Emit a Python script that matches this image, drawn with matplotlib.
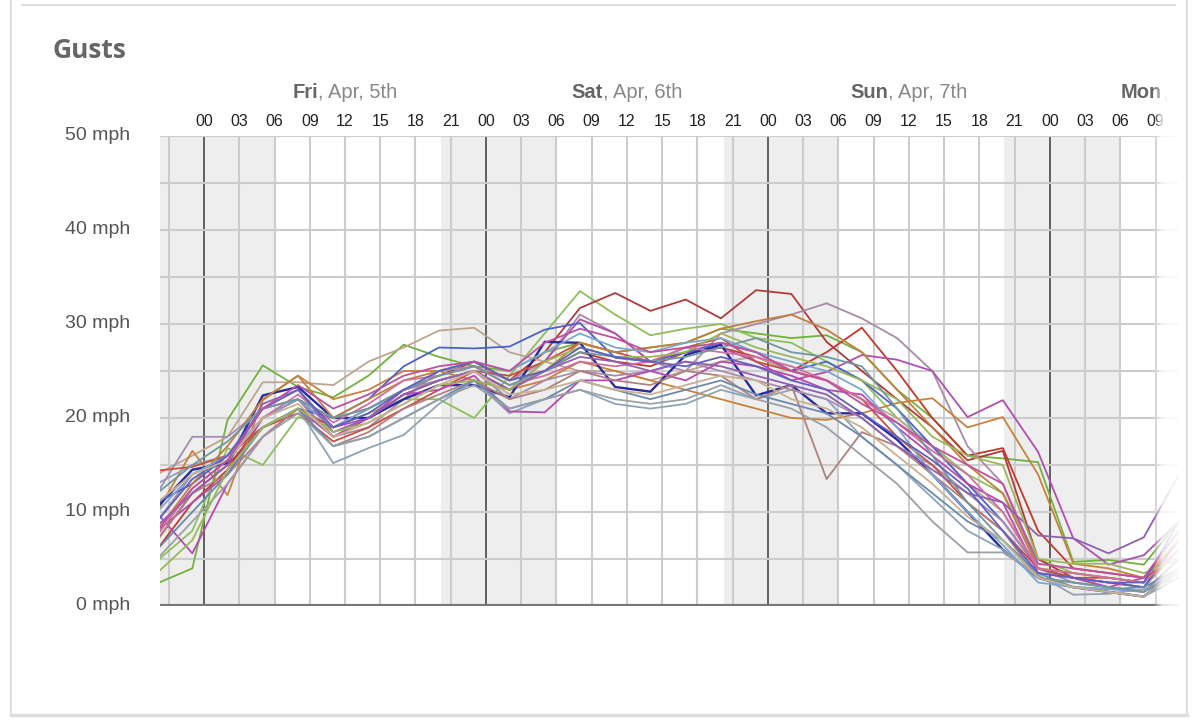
import numpy as np
import matplotlib.pyplot as plt
from matplotlib.lines import Line2D

# forecast steps, hours from Fri 5 Apr 00:00
hours = [-4, -1, 2, 5, 8, 11, 14, 17, 20, 23, 26, 29, 32, 35, 38, 41,
         44, 47, 50, 53, 56, 59, 62, 65, 68, 71, 74, 77, 80, 83]

# ensemble members, gusts in mph
m01 = [2.4, 4.0, 19.8, 25.6, 23.3, 22.2, 24.5, 27.8, 26.5, 25.5, 25, 27, 28, 27, 27.5,
       28, 29.5, 29, 28.5, 28.8, 27, 23, 20, 16, 15.7, 15.3, 4.7, 4.9, 4.4, 9]
m02 = [4.8, 8, 16.8, 15, 20.1, 19, 20.5, 22, 22, 20, 24.5, 29, 33.5, 31, 28.8,
       29.5, 30, 28.5, 28, 26, 24, 20, 17, 14, 12, 5, 3.5, 3, 2.5, 6]
m03 = [7, 12, 15, 19, 21, 19, 21, 23, 24.5, 26, 24, 27, 31.7, 33.3, 31.4,
       32.6, 30.6, 33.6, 33.2, 28.1, 25, 22, 19, 15.5, 16.5, 5, 3, 2.5, 2, 6]
m04 = [6, 11, 14.5, 20, 22, 18, 20, 22.5, 24, 25, 23, 25, 27, 26, 25.5,
       27, 27.5, 26.5, 25, 27, 29.6, 25, 20, 16, 16.8, 8, 4, 3.5, 3, 8]
m05 = [9, 14, 16, 21, 22, 18, 19, 22, 25, 25.5, 24, 26, 31, 29, 26,
       25, 29, 30, 31, 32.2, 30.6, 28.5, 25, 17, 13, 4, 3, 2, 1.5, 5]
m06 = [14, 16, 18, 23.8, 23.8, 23.5, 26, 27.5, 29.3, 29.6, 27, 26, 25, 25, 24,
       25, 26, 26.5, 25, 24, 22, 20, 17, 13, 10, 4, 3, 2.5, 2, 6]
m07 = [8, 11, 14, 20, 22, 19, 20, 23, 24, 25, 23, 26, 30.5, 29, 26,
       27, 27.5, 26, 24, 24.9, 26.7, 26.2, 25, 20.1, 21.9, 16.4, 7.2, 4.4, 5.4, 9]
m08 = [10, 16.5, 11.8, 21.9, 24.5, 22, 23, 25, 25, 24, 23, 24, 26, 25, 24,
       23, 22, 21, 20, 19.8, 20.5, 21.6, 22.1, 19, 20.1, 14, 4.5, 4, 3, 7]
m09 = [10.5, 14.5, 15.2, 22.4, 23.3, 20, 20, 22, 23.5, 23.5, 22.2, 28.1, 28, 23.3, 22.8,
       26.7, 27.8, 22.4, 23.5, 20.5, 20.5, 17.7, 14, 10, 6, 3, 2, 1.5, 1, 4]
m10 = [11, 13, 16, 19, 21, 20, 22, 25.5, 27.5, 27.4, 27.6, 29.4, 30.1, 26.4, 26,
       27, 28, 27, 25, 26, 24, 21, 17, 13, 9, 4, 3, 2.5, 2, 7]
m11 = [13, 15, 16, 19, 21, 15.2, 16.8, 18.2, 21.5, 24, 20.5, 22, 23, 21.5, 21,
       21.5, 23, 22, 23, 22, 18, 15, 11.5, 8, 6, 3, 2, 1.5, 1, 3]
m12 = [12, 18, 18, 21, 22, 20, 21, 23, 24, 25, 22, 24, 25, 24.5, 25,
       26, 25, 24, 23, 22, 20, 17, 15, 12, 9, 4, 2.5, 2, 1.5, 5]
m13 = [14.4, 14.8, 16, 19, 20.5, 17.5, 19, 21, 23, 25, 24.5, 26, 28, 27, 26,
       27.5, 28.5, 26, 25, 24, 22, 18, 15, 11, 8, 4, 3, 3, 2.5, 7]
m14 = [9.9, 5.6, 13, 18, 21, 18, 20, 22.5, 23, 24.5, 20.7, 20.6, 24, 24, 25,
       24, 26, 25.5, 24.5, 23, 22.5, 19, 16, 13, 11, 3.5, 3, 2, 3, 8]
m15 = [8, 13, 17, 22, 24.5, 20, 22, 24, 25, 26, 24, 25, 28, 27, 27.5,
       28, 29.5, 30.3, 31, 29.4, 27, 23, 19, 15, 12, 4, 3.5, 3, 2.5, 6]
m16 = [7, 12, 14, 18, 21, 17, 18.5, 21, 22.5, 24, 22, 23, 25, 24, 23.5,
       25, 24.5, 22, 23.5, 13.5, 18.5, 17, 14, 11, 8, 3, 2.5, 2, 1.5, 5]
m17 = [6, 10, 14, 19, 21, 17, 18, 20, 22, 24, 21, 22, 24, 23, 22,
       23, 24, 22.5, 21.5, 20.5, 18, 15, 12, 9, 7, 3.5, 2, 1.8, 2, 4]
m18 = [5, 9, 13, 18, 20.5, 17, 18, 20, 22, 23.5, 21, 22, 23, 22, 21.5,
       22, 23.5, 22, 21, 19, 16, 13, 9, 5.7, 5.7, 3.3, 1.2, 1.3, 1.8, 3]
m19 = [10, 14, 16, 20, 22, 19, 21, 23, 25, 26, 25, 27, 29, 27.5, 27,
       28, 28.5, 27, 26, 25, 23, 19, 14, 10, 6.5, 2.5, 2, 1.8, 1.5, 4]
m20 = [7.5, 12.5, 15.5, 20, 22.5, 19.5, 21.5, 24, 24.5, 25.5, 23.5, 24.5, 26, 25.5, 26,
       27.5, 27, 26.5, 25.5, 24, 22, 19.5, 16.5, 14, 10, 4, 3.5, 3, 2.5, 6]
m21 = [8.5, 12, 15, 21.5, 23, 18.5, 20, 22.5, 24, 25, 23, 25, 26.5, 26, 25,
       26, 25.5, 24.5, 23.5, 22.5, 20, 17, 14.5, 12, 11, 7.5, 7.2, 5.6, 7.3, 14]
m22 = [3.5, 7, 14.5, 19, 21, 18.5, 19.5, 21.5, 23.5, 24, 23, 26, 27.5, 26.5, 26.5,
       27, 29, 27.5, 26.5, 25.5, 24, 22, 18, 16, 15, 5, 4.5, 4.5, 3.5, 5]
m23 = [12, 15, 17.5, 21, 22, 20, 21, 23, 24.5, 25.5, 23.5, 25, 27, 26.5, 26,
       26.5, 27.5, 28.5, 27, 26.5, 25.5, 21, 16, 11, 7, 3, 2.5, 2, 1.5, 3.5]
m24 = [9, 13.5, 16, 21, 23, 19, 20.5, 23, 25, 26, 24, 25, 27.5, 26.5, 26,
       25.5, 26.5, 25.5, 24, 23, 20.5, 18, 15.5, 12.5, 8, 3.5, 3, 2.5, 2.5, 9]
m25 = [11, 14, 15.5, 20, 21.5, 18, 19.5, 21.5, 23.5, 25, 22.5, 23, 24, 23, 22.5,
       23.5, 24.5, 24, 22, 21, 19, 16, 13, 9.5, 7, 3, 2, 1.5, 1, 4]
m26 = [8, 12.5, 15.5, 21, 23.5, 21, 22.5, 24.5, 25.5, 26, 25, 28, 29.5, 28.5, 27,
       27.5, 28, 27, 25, 24, 21.5, 19.5, 17, 15, 13, 4.5, 4, 3.5, 3, 8]

members = [m01, m02, m03, m04, m05, m06, m07, m08, m09, m10, m11, m12, m13,
           m14, m15, m16, m17, m18, m19, m20, m21, m22, m23, m24, m25, m26]
colors = ['#6fb23e', '#8cc05a', '#b03a3a', '#c0392b', '#a88aa8', '#bca58e',
          '#b04fb0', '#c8823c', '#2a2aa0', '#4b63c8', '#8fa3b8', '#a68cb0',
          '#c9503c', '#b848b0', '#c08040', '#b08080', '#6a8ab0', '#9aa0a8',
          '#7aa8d0', '#d070a0', '#9060b0', '#9ab85a', '#7098a0', '#6060c0',
          '#c8b090', '#c050a0']

# night shading and labels
night_start = [-3.75, 20.2, 44.3, 68.1]
night_end = [6, 30, 54, 78]
day_names = ['Fri', 'Sat', 'Sun', 'Mon']
day_dates = ['Apr, 5th', 'Apr, 6th', 'Apr, 7th', 'Apr, 8th']
day_centers = [12, 36, 60, 83.2]
grid_hours = list(range(-3, 82, 3))
label_hours = list(range(0, 82, 3))
y_ticks = [0, 10, 20, 30, 40, 50]

W, H = 1200, 727
fig = plt.figure(figsize=(12, 7.27), dpi=100)
ax = fig.add_axes([160 / W, 1 - 606 / H, 1019 / W, 470 / H])
ax.set_xlim(-3.75, 83)
ax.set_ylim(0, 50)
for s in ax.spines.values():
    s.set_visible(False)
ax.set_xticks([])
ax.set_yticks([])

for a, b in zip(night_start, night_end):
    ax.axvspan(a, b, color='#eeeeee', lw=0, zorder=0)
for h in grid_hours:
    if h % 24 == 0:
        ax.axvline(h, color='#555555', lw=1.3, zorder=1)
    else:
        ax.axvline(h, color='#cccccc', lw=1.5, zorder=1)
for v in range(5, 51, 5):
    ax.axhline(v, color='#cccccc', lw=1.5, zorder=1)

for vals, c in zip(members, colors):
    lw = 1.7 if c == '#2a2aa0' else 1.3
    ax.plot(hours, vals, color=c, lw=lw, zorder=2)

ax.axhline(0, color='#777777', lw=3, zorder=3)

font = 'Liberation Sans'
for v in y_ticks:
    ax.text(-30 / 1019, v, f'{v} mph', transform=ax.get_yaxis_transform(),
            ha='right', va='center', fontsize=14, color='#555555', family=font)

for h in label_hours:
    ax.text(h, (606 - 121) / 470, f'{h % 24:02d}', transform=ax.get_xaxis_transform(),
            ha='center', va='center', fontsize=11.5, color='#222222', family=font)

fig.canvas.draw()
r = fig.canvas.get_renderer()
yday = (606 - 93) / 470
for name, date, c in zip(day_names, day_dates, day_centers):
    t1 = ax.text(0, 0, name, fontsize=14.5, weight='bold', family=font)
    t2 = ax.text(0, 0, ', ' + date, fontsize=14.5, family=font)
    w1 = t1.get_window_extent(r).width
    w2 = t2.get_window_extent(r).width
    t1.remove()
    t2.remove()
    x0 = -(w1 + w2) / 2
    # the last day runs off the card: only its visible part is drawn
    rest = ', ' + date if name != 'Mon' else ','
    ax.annotate(name, xy=(c, yday), xycoords=ax.get_xaxis_transform(),
                xytext=(x0, 0), textcoords='offset pixels', ha='left', va='center',
                fontsize=14.5, weight='bold', color='#666666', family=font)
    ax.annotate(rest, xy=(c, yday), xycoords=ax.get_xaxis_transform(),
                xytext=(x0 + w1, 0), textcoords='offset pixels', ha='left', va='center',
                fontsize=14.5, color='#888888', family=font)

fig.text(52 / W, 1 - 58 / H, 'Gusts', fontsize=19, weight='bold', color='#666666',
         family='Open Sans', va='baseline')

# fade-out on the right edge
fade = fig.add_axes([1153 / W, 1 - 615 / H, 47 / W, 555 / H], zorder=10)
px = np.arange(47)
alpha = np.interp(px, [0, 9, 25, 27, 47], [0, 0.8, 0.93, 1, 1])
img = np.ones((1, 47, 4))
img[0, :, 3] = alpha
fade.imshow(img, aspect='auto', extent=[0, 1, 0, 1], interpolation='bilinear')
fade.axis('off')

# card border
edge = '#dddddd'
for xs, ys, lw in [([11, 11], [0, 715], 1.5), ([1187, 1187], [0, 715], 1.5),
                   ([11, 1187], [715, 715], 2.5), ([22, 1175], [5, 5], 1.5)]:
    fig.add_artist(Line2D([x / W for x in xs], [1 - y / H for y in ys],
                          transform=fig.transFigure, color=edge, lw=lw, zorder=20))

fig.savefig('out.png', dpi=100)
